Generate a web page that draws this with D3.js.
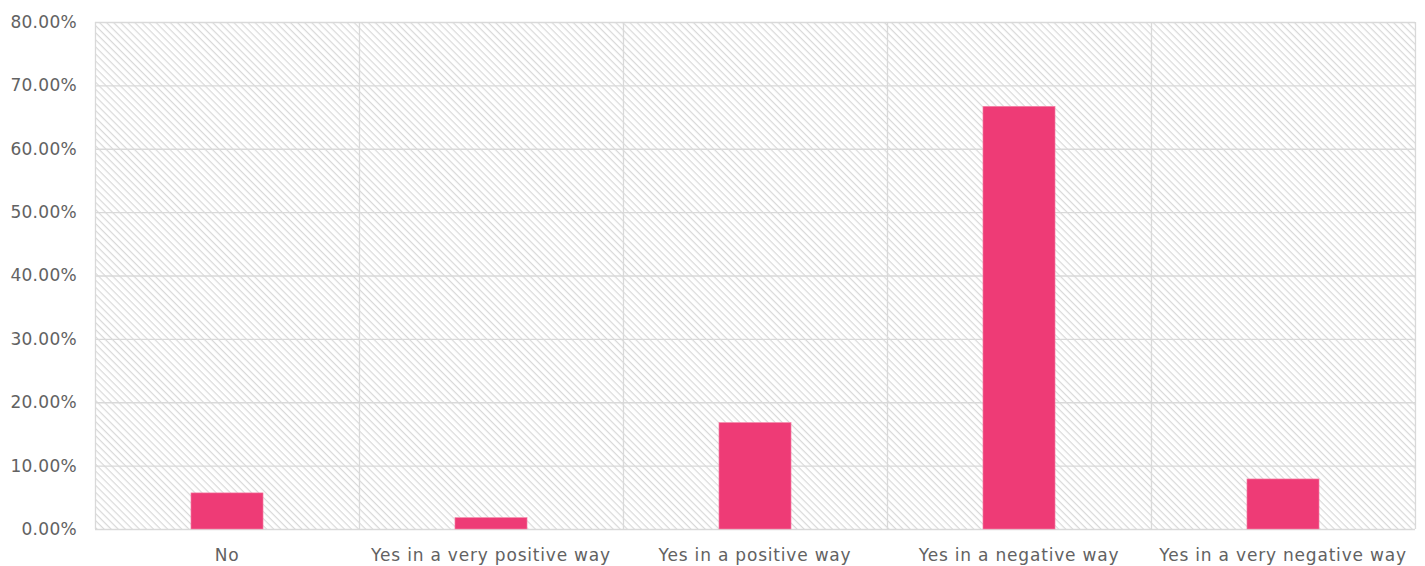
<!DOCTYPE html>
<html><head><meta charset="utf-8">
<script src="https://cdn.jsdelivr.net/npm/d3@7"></script>
<style>body{margin:0;background:#fff}svg{display:block}</style>
</head><body><svg id="c" width="1425" height="566"></svg>
<script>
const categories = ["No","Yes in a very positive way","Yes in a positive way","Yes in a negative way","Yes in a very negative way"];
const values = [5.7, 1.8, 16.8, 66.7, 7.9];
const yTicks = [0,10,20,30,40,50,60,70,80];

const svg = d3.select("#c");
const m = {l:95, r:1415, t:22, b:529};
const x = d3.scaleBand().domain(categories).range([m.l, m.r]).paddingInner(0).paddingOuter(0);
const y = d3.scaleLinear().domain([0,80]).range([m.b, m.t]);

const defs = svg.append("defs");
const pat = defs.append("pattern").attr("id","hatch").attr("patternUnits","userSpaceOnUse")
  .attr("width",5).attr("height",5).attr("patternTransform","rotate(45)");
pat.append("rect").attr("width",5).attr("height",5).attr("fill","#fff");
pat.append("line").attr("x1",0).attr("y1",0).attr("x2",5).attr("y2",0)
  .attr("stroke","#d9d9d9").attr("stroke-width",2.4);

svg.append("rect").attr("x",m.l).attr("y",m.t).attr("width",m.r-m.l).attr("height",m.b-m.t)
  .attr("fill","url(#hatch)");

// horizontal gridlines
svg.append("g").selectAll("line").data(yTicks).join("line")
  .attr("x1",m.l).attr("x2",m.r).attr("y1",d=>y(d)+0.5).attr("y2",d=>y(d)+0.5)
  .attr("stroke","#d9d9d9").attr("stroke-width",1.3);
// vertical gridlines
const vx = categories.map(c=>x(c)).concat([m.r]);
svg.append("g").selectAll("line").data(vx).join("line")
  .attr("x1",d=>d+0.5).attr("x2",d=>d+0.5).attr("y1",m.t).attr("y2",m.b)
  .attr("stroke","#d9d9d9").attr("stroke-width",1.3);

// bars
const bw = x.bandwidth()*0.273;
svg.append("g").selectAll("rect").data(values).join("rect")
  .attr("x",(d,i)=>x(categories[i])+x.bandwidth()/2-bw/2)
  .attr("y",d=>y(d)).attr("width",bw).attr("height",d=>y(0)-y(d))
  .attr("fill","#ee3b76").attr("stroke","#f48aaa").attr("stroke-width",0.6);

// axes
const font = "'DejaVu Sans', sans-serif";
const yAxis = d3.axisLeft(y).tickValues(yTicks).tickFormat(d=>d.toFixed(2)+"%").tickSize(0).tickPadding(18);
const gy = svg.append("g").attr("transform",`translate(${m.l},0)`).call(yAxis);
gy.select(".domain").remove();
gy.selectAll("text").attr("fill","#626262").style("font-family",font).style("font-size","17px").style("letter-spacing","0.3px");

const xAxis = d3.axisBottom(x).tickSize(0).tickPadding(20);
const gx = svg.append("g").attr("transform",`translate(0,${m.b})`).call(xAxis);
gx.select(".domain").remove();
gx.selectAll("text").attr("fill","#626262").style("font-family",font).style("font-size","17px").style("letter-spacing","0.8px");
</script></body></html>
